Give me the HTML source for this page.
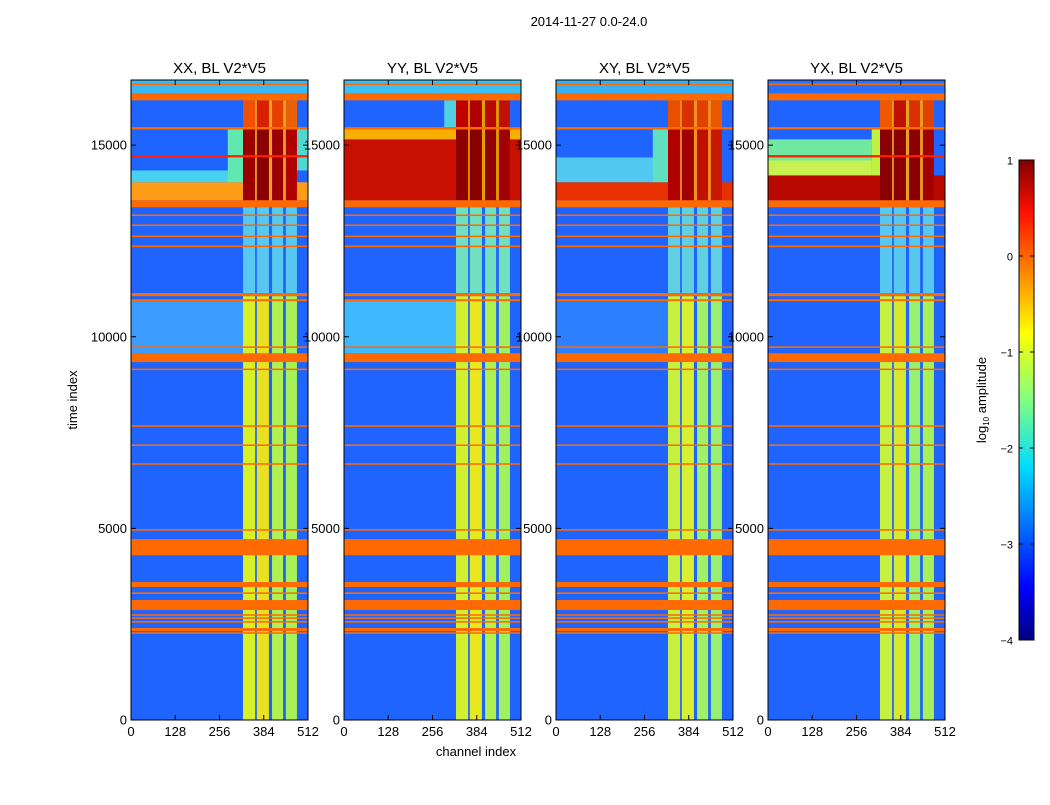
<!DOCTYPE html>
<html><head><meta charset="utf-8">
<style>
body{margin:0;background:#fff;font-family:"Liberation Sans",sans-serif;}
svg text{font-family:"Liberation Sans",sans-serif;fill:#000;}
</style></head>
<body>
<svg id="chart" width="1050" height="800" xmlns="http://www.w3.org/2000/svg">
<defs>
<linearGradient id="jet" x1="0" y1="1" x2="0" y2="0">
<stop offset="0" stop-color="#000080"/><stop offset="0.11" stop-color="#0000ff"/>
<stop offset="0.36" stop-color="#00dcff"/><stop offset="0.5" stop-color="#80ff80"/>
<stop offset="0.64" stop-color="#ffff00"/><stop offset="0.89" stop-color="#ff1000"/>
<stop offset="1" stop-color="#800000"/>
</linearGradient>
</defs>
<text x="589" y="26" font-size="13" text-anchor="middle">2014-11-27 0.0-24.0</text>
<text transform="translate(77,400) rotate(-90)" font-size="13" text-anchor="middle">time index</text>
<text x="476" y="756" font-size="13" text-anchor="middle">channel index</text>
<g id="panels"></g>
<g>
<rect x="1019" y="160" width="15" height="480" fill="url(#jet)" stroke="#000" stroke-width="1"/>
<text transform="translate(986,400) rotate(-90)" font-size="13" text-anchor="middle">log<tspan font-size="8" dy="3">10</tspan><tspan dy="-3"> amplitude</tspan></text>
<g id="cbticks"></g>
</g>
</svg>
<script>
const NS="http://www.w3.org/2000/svg";
const panelTitles=["XX, BL V2*V5","YY, BL V2*V5","XY, BL V2*V5","YX, BL V2*V5"];
const panelLeft=[131,344,556,768];
const timeTicks=[0,5000,10000,15000];
const chanTicks=[0,128,256,384,512];
const cbTicks=[-4,-3,-2,-1,0,1];
const timeMax=16700, chanMax=512;
const flagBands=[[16570,16610],[16170,16350],[15410,15470],[13380,13560],[13150,13190],[12890,12930],[12600,12640],[12340,12380],
[11060,11140],[10930,10980],[9710,9750],[9340,9570],[9130,9170],[7650,7690],[7150,7190],[6660,6700],[4940,4980],[4300,4720],
[3470,3600],[3290,3330],[2870,3130],[2720,2760],[2640,2680],[2540,2580],[2320,2400],[2250,2290]];
const stripes=[[324,359],[364,399],[408,440],[448,480]];
const regionsXX=[[16350,16700,0,512,"#3cb8f4"],[9570,10930,0,324,"#3c9cff"],[14030,14340,0,300,"#48d0f0"],[14030,15410,280,324,"#60e8b0"],[14340,15410,480,512,"#50d8d0"],[13560,14030,0,512,"#ff9c18"],[13560,16170,324,480,"#f0a020"]];
const regionsYY=[[16350,16700,0,512,"#3cc0f4"],[9570,10930,0,324,"#40b8ff"],[15470,16170,290,324,"#50d0e0"],[15150,15410,0,512,"#f8b000"],[13560,15150,0,512,"#c81000"],[13560,16170,324,480,"#e0a000"]];
const regionsXY=[[16350,16700,0,512,"#38b0f4"],[9570,10930,0,324,"#2c80ff"],[14030,14680,0,300,"#50c8f0"],[14030,15410,280,324,"#60e0c0"],[13560,14030,0,512,"#e83000"],[13560,16170,324,480,"#f09020"]];
const regionsYX=[[16350,16700,0,512,"#2a70ff"],[14210,15150,0,300,"#70e8a0"],[14210,14600,0,300,"#c8f050"],[13560,14210,0,512,"#b80800"],[14210,15410,300,324,"#c0f040"],[13560,16170,324,480,"#e8a020"]];
const panelRegions=[regionsXX,regionsYY,regionsXY,regionsYX];
const stripeLow=[["#d8f028","#e8e020","#b0f050","#a8f058"],["#d0f030","#e8e820","#b0f050","#a0f060"],["#c8f040","#d8f030","#a0f068","#98f070"],["#c8f040","#d8e830","#98f070","#a8f058"]];
const stripeMid=["#58c8f0","#70e0c0","#60d0e0","#58c8f0"];
const stripeFlare=[["#9a0000","#8a0000","#9a0000","#b00000"],["#900000","#880000","#900000","#a00000"],["#b00000","#a00000","#c01000","#c81800"],["#8a0000","#8a0000","#8a0000","#a00000"]];
const stripeTop=[["#f05000","#d82000","#e84000","#e86000"],["#c00000","#b00000","#b80800","#c01000"],["#e85000","#d83000","#e04000","#e85800"],["#f05800","#c01000","#d83000","#e04000"]];
const panelW=177, axTop=80, axBottom=720;
function yS(t){return axBottom-(t/timeMax)*(axBottom-axTop);}
function xS(c,p){return panelLeft[p]+(c/chanMax)*panelW;}
function mk(tag,attrs,parent){const e=document.createElementNS(NS,tag);for(const k in attrs)e.setAttribute(k,attrs[k]);parent.appendChild(e);return e;}
function rect(p,t0,t1,c0,c1,col,g){const x0=xS(c0,p),x1=xS(c1,p),y0=yS(t1),y1=yS(t0);
 return mk("rect",{x:x0,y:y0,width:x1-x0,height:Math.max(1,y1-y0),fill:col},g);}
const panels=document.getElementById("panels");
for(let p=0;p<4;p++){
 const g=mk("g",{},panels);
 
 
 const bg=rect(p,0,timeMax,0,chanMax,"#2064ff",g);
 
 
 panelRegions[p].forEach(r=>{const e=rect(p,r[0],r[1],r[2],r[3],r[4],g);
  
  });
 stripes.forEach((s,i)=>{
  let e=rect(p,0,11060,s[0],s[1],stripeLow[p][i],g);
  
  
  e=rect(p,11140,13380,s[0],s[1],stripeMid[p],g);
  
  
  e=rect(p,13560,15410,s[0],s[1],stripeFlare[p][i],g);
  
  
  e=rect(p,15470,16170,s[0],s[1],stripeTop[p][i],g);
  
  
 });
 if(p===0||p===3){const e=rect(p,14680,14740,0,512,"#ff2000",g);
  
  }
 flagBands.forEach(b=>{const e=rect(p,b[0],b[1],0,chanMax,"#ff6a00",g);
  
  });
 const fr=mk("rect",{x:panelLeft[p],y:axTop,width:panelW,height:axBottom-axTop,fill:"none",stroke:"#000","stroke-width":1},g);
 
 
 const tt=mk("text",{x:panelLeft[p]+panelW/2,y:73,"font-size":15,"text-anchor":"middle"},g);
 tt.textContent=panelTitles[p];
 
 
 timeTicks.forEach(t=>{const y=yS(t);
  mk("line",{x1:panelLeft[p],x2:panelLeft[p]+5,y1:y,y2:y,stroke:"#000"},g);
  mk("line",{x1:panelLeft[p]+panelW,x2:panelLeft[p]+panelW-5,y1:y,y2:y,stroke:"#000"},g);
  const l=mk("text",{x:panelLeft[p]-4,y:y+4.5,"font-size":13,"text-anchor":"end"},g);
  l.textContent=t;
  
  });
 chanTicks.forEach(c=>{const x=xS(c,p);
  mk("line",{x1:x,x2:x,y1:axBottom,y2:axBottom-5,stroke:"#000"},g);
  mk("line",{x1:x,x2:x,y1:axTop,y2:axTop+5,stroke:"#000"},g);
  const l=mk("text",{x:x,y:736,"font-size":13,"text-anchor":"middle"},g);
  l.textContent=c;
  
  });
}
const cb=document.getElementById("cbticks");
cbTicks.forEach(v=>{const y=640-(v+4)/5*480;
 mk("line",{x1:1019,x2:1023,y1:y,y2:y,stroke:"#000"},cb);
 mk("line",{x1:1034,x2:1030,y1:y,y2:y,stroke:"#000"},cb);
 const l=mk("text",{x:1013,y:y+4.5,"font-size":11,"text-anchor":"end"},cb);
 l.textContent=v<0?"\u2212"+(-v):String(v);
 
 });
</script>
</body></html>
